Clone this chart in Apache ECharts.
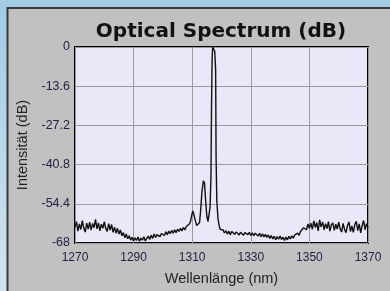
<!DOCTYPE html>
<html>
<head>
<meta charset="utf-8">
<script src="https://cdn.jsdelivr.net/npm/echarts@6/dist/echarts.min.js"></script>
<style>
  html, body { margin: 0; padding: 0; background: #a8cfe6; }
  #chart { width: 390px; height: 291px; }
</style>
</head>
<body>
<div id="chart"></div>
<script>
// x axis labels / grid, y axis ticks
const xTicks = [1270, 1290, 1310, 1330, 1350, 1370]
const yTicks = [0, -13.6, -27.2, -40.8, -54.4, -68]

// left noise floor, 1270 .. 1308.5 nm, every 0.5 nm
const leftStart = 1270
const leftFloor = [
  -62.6, -60.6, -63.9, -61.4, -63.3, -60.2, -62.8, -64.2, -61.1, -63.2, -60.8,
  -63.5, -61.2, -62.7, -59.8, -63.1, -61.0, -63.8, -61.5, -62.9,
  -60.6, -63.0, -64.0, -61.3, -63.5, -61.6, -64.3, -62.5,
  -64.6, -62.9, -64.9, -63.5, -65.5, -64.4, -66.2, -64.9,
  -66.5, -65.5, -67.0, -66.0, -67.3, -66.2, -67.1, -65.9, -67.4, -66.3, -67.0, -65.8, -67.3, -66.4,
  -65.6, -66.8, -65.3, -66.4, -64.9, -66.1, -65.1, -64.6, -65.8, -64.7,
  -64.3, -65.4, -64.1, -65.1, -63.9, -64.8, -63.6, -64.6, -63.4, -64.4,
  -63.2, -64.0, -62.9, -63.8, -62.6, -63.5, -62.3, -62.0
]

// the three laser modes around 1310 - 1320 nm
const peakWl = [
  1309, 1309.4, 1309.8, 1310.2, 1310.6, 1311, 1311.5, 1312, 1312.5, 1312.9,
  1313.3, 1313.8, 1314.2, 1314.6, 1315, 1315.4, 1315.8, 1316.1, 1316.4, 1316.6,
  1316.8, 1317.0, 1317.3, 1317.7, 1318.0, 1318.15, 1318.4, 1318.8, 1319.2, 1319.6, 1320
]
const peakDb = [
  -61.4, -60.6, -58.5, -56.9, -58.2, -60.0, -61.9, -61.8, -61.0, -56.5,
  -50.5, -46.4, -47.2, -53.5, -58.8, -60.6, -60.2, -55.5, -45.0, -20.0,
  -4.0, 0, -0.4, -1.5, -8.0, -38.0, -53.5, -59.5, -62.0, -63.3, -63.9
]

// right noise floor, 1320.5 .. 1370 nm, every 0.5 nm
const rightStart = 1320.5
const rightFloor = [
  -63.4, -64.5, -63.7, -64.9, -63.9, -65.1, -64.0, -63.7, -65.0, -64.2,
  -63.8, -65.2, -64.3, -63.9, -65.3, -64.4, -64.0, -65.1, -64.3, -65.4,
  -64.5, -65.5, -64.6, -64.1, -65.6, -64.6, -65.8, -64.8, -65.9, -65.0,
  -66.1, -65.2, -66.4, -65.4, -66.6, -65.7, -66.9, -65.8, -66.7, -65.6,
  -66.8, -66.0, -67.1, -65.9, -66.9, -65.7, -66.6, -65.5, -66.3, -65.2,
  -65.8, -64.6, -65.3, -63.9, -64.1, -62.7, -62.1, -63.4, -61.4, -62.9,
  -61.1, -63.3, -60.3, -62.6, -60.9, -63.8, -60.0, -62.4, -60.7, -63.4,
  -61.3, -63.0, -60.6, -63.9, -61.7, -61.0, -63.6, -61.5, -63.2, -60.8,
  -63.1, -64.2, -61.2, -63.3, -64.4, -61.9, -60.7, -64.0, -62.1, -64.3,
  -61.6, -60.5, -63.7, -61.4, -64.5, -62.0, -60.2, -63.4, -61.3, -62.8
]

let spectrum = []
leftFloor.forEach((v, i) => spectrum.push([leftStart + i * 0.5, v]))
peakWl.forEach((w, i) => spectrum.push([w, peakDb[i]]))
rightFloor.forEach((v, i) => spectrum.push([rightStart + i * 0.5, v]))

const fmt = v => String(Number(v.toFixed(1)))

let myChart = echarts.init(document.getElementById('chart'))
let options = {
  backgroundColor: {
    type: 'linear', x: 0, y: 0, x2: 0, y2: 1,
    colorStops: [{ offset: 0, color: '#a2cbe5' }, { offset: 1, color: '#cfe4f2' }]
  },
  animation: false,
  graphic: [{
    type: 'rect',
    z: -10,
    shape: { x: 7.5, y: 8, width: 390, height: 290 },
    style: { fill: '#c1c1c1', stroke: '#3a3a3a', lineWidth: 2 }
  }],
  title: {
    text: 'Optical Spectrum (dB)',
    left: 216,
    textAlign: 'center',
    top: 17,
    textStyle: { fontFamily: 'DejaVu Sans', fontWeight: 'bold', fontSize: 20, color: '#111' }
  },
  grid: {
    left: 75,
    right: 22,
    top: 47,
    bottom: 47,
    show: true,
    backgroundColor: '#e8e8f8',
    borderColor: '#000',
    borderWidth: 2
  },
  xAxis: {
    type: 'value',
    min: 1270,
    max: 1370,
    name: 'Wellenlänge (nm)',
    nameLocation: 'middle',
    nameGap: 28,
    nameTextStyle: { fontFamily: 'Liberation Sans', fontSize: 14.5, color: '#222' },
    axisLine: { show: false },
    axisTick: { show: false, customValues: xTicks },
    axisLabel: {
      customValues: xTicks,
      formatter: v => String(v),
      margin: 9,
      fontFamily: 'Liberation Sans',
      fontSize: 12,
      color: '#222244'
    },
    splitLine: { show: true, lineStyle: { color: '#9a9a9a', width: 1 } }
  },
  yAxis: {
    type: 'value',
    min: -68,
    max: 0,
    name: 'Intensität (dB)',
    nameLocation: 'middle',
    nameGap: 41,
    nameTextStyle: { fontFamily: 'Liberation Sans', fontSize: 14.5, color: '#222' },
    axisLine: { show: false },
    axisTick: { show: false, customValues: yTicks },
    axisLabel: {
      customValues: yTicks,
      formatter: fmt,
      margin: 5,
      fontFamily: 'Liberation Sans',
      fontSize: 12.5,
      color: '#222244'
    },
    splitLine: { show: true, lineStyle: { color: '#9a9a9a', width: 1 } }
  },
  series: [{
    type: 'line',
    data: spectrum,
    showSymbol: false,
    lineStyle: { color: '#111', width: 1.4 },
    z: 5
  }]
}
myChart.setOption(options)
</script>
</body>
</html>
